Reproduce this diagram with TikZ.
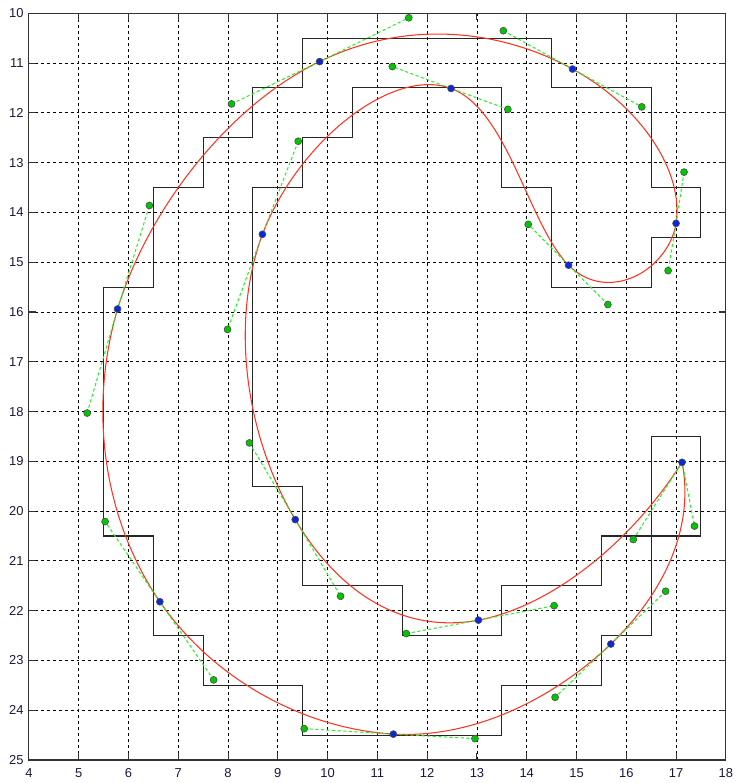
\documentclass[tikz,border=0pt]{standalone}
\usepackage{fontspec}
\setmainfont{Liberation Sans}
\definecolor{curvec}{RGB}{255,50,30}
\definecolor{ctrlc}{RGB}{40,240,40}
\definecolor{gdot}{RGB}{0,200,0}
\definecolor{bdot}{RGB}{10,40,220}
\definecolor{labc}{RGB}{25,25,60}
\tikzset{
  gridline/.style={black, line width=0.45pt, dash pattern=on 1.7pt off 1.7pt},
  axisline/.style={black!80, line width=0.6pt},
  tickline/.style={black!80, line width=0.6pt},
  stairline/.style={black!85, line width=0.6pt},
  fitcurve/.style={curvec, line width=0.6pt},
  ctrlline/.style={ctrlc, line width=0.6pt, dash pattern=on 1.8pt off 1.4pt},
  gmark/.style={circle, draw=black!70, fill=gdot, line width=0.35pt, inner sep=0pt, minimum size=1.4mm},
  bmark/.style={circle, draw=black!70, fill=bdot, line width=0.35pt, inner sep=0pt, minimum size=1.4mm},
  ticklabel/.style={text=labc, inner sep=0pt, font=\fontsize{7.4}{9}\selectfont}
}
\begin{document}
\begin{tikzpicture}[x=1cm,y=-1cm]
\useasboundingbox (3.419,9.733) rectangle (18.184,25.462);
% grid
\foreach \x in {5,...,17} \draw[gridline] (\x,25) -- (\x,10);
\foreach \y in {11,...,24} \draw[gridline] (4,\y) -- (18,\y);
% axes box and ticks
\draw[axisline] (4,10) rectangle (18,25);
\foreach \x in {5,...,17} {
  \draw[tickline] (\x,25) -- (\x,24.86);
  \draw[tickline] (\x,10) -- (\x,10.14);
}
\foreach \y in {11,...,24} {
  \draw[tickline] (4,\y) -- (4.14,\y);
  \draw[tickline] (18,\y) -- (17.86,\y);
}
% tick labels
\foreach \x in {4,...,18} \node[ticklabel] (xl\x) at (\x,25.26) {\x};
\foreach \y in {10,...,25} \node[ticklabel, anchor=east] (yl\y) at (3.9,\y) {\y};
% staircase outline
\draw[stairline] (9.5,10.5) -- (14.5,10.5) -- (14.5,11.5) -- (16.5,11.5) -- (16.5,13.5)
  -- (17.5,13.5) -- (17.5,14.5) -- (16.5,14.5) -- (16.5,15.5) -- (14.5,15.5) -- (14.5,13.5)
  -- (13.5,13.5) -- (13.5,11.5) -- (10.5,11.5) -- (10.5,12.5) -- (9.5,12.5) -- (9.5,13.5)
  -- (8.5,13.5) -- (8.5,19.5) -- (9.5,19.5) -- (9.5,21.5) -- (11.5,21.5) -- (11.5,22.5)
  -- (13.5,22.5) -- (13.5,21.5) -- (15.5,21.5) -- (15.5,20.5) -- (17.5,20.5) -- (17.5,18.5)
  -- (16.5,18.5) -- (16.5,22.5) -- (15.5,22.5) -- (15.5,23.5) -- (13.5,23.5) -- (13.5,24.5)
  -- (9.5,24.5) -- (9.5,23.5) -- (7.5,23.5) -- (7.5,22.5) -- (6.5,22.5) -- (6.5,20.5)
  -- (5.5,20.5) -- (5.5,15.5) -- (6.5,15.5) -- (6.5,13.5) -- (7.5,13.5) -- (7.5,12.5)
  -- (8.5,12.5) -- (8.5,11.5) -- (9.5,11.5) -- cycle;
% points: b = on-curve, a = incoming control, c = outgoing control
\coordinate (b1) at (9.84,10.97);  \coordinate (a1) at (8.07,11.82);  \coordinate (c1) at (11.63,10.09);
\coordinate (b2) at (14.92,11.12); \coordinate (a2) at (13.53,10.35); \coordinate (c2) at (16.31,11.88);
\coordinate (b3) at (17.00,14.22); \coordinate (a3) at (17.16,13.19); \coordinate (c3) at (16.84,15.17);
\coordinate (b4) at (14.84,15.06); \coordinate (a4) at (15.63,15.85); \coordinate (c4) at (14.03,14.24);
\coordinate (b5) at (12.48,11.51); \coordinate (a5) at (13.62,11.93); \coordinate (c5) at (11.30,11.07);
\coordinate (b6) at (8.69,14.44);  \coordinate (a6) at (9.41,12.57);  \coordinate (c6) at (7.99,16.35);
\coordinate (b7) at (9.35,20.17);  \coordinate (a7) at (8.43,18.63);  \coordinate (c7) at (10.26,21.71);
\coordinate (b8) at (13.03,22.19); \coordinate (a8) at (11.58,22.46); \coordinate (c8) at (14.55,21.90);
\coordinate (b9) at (17.12,19.02); \coordinate (a9) at (16.14,20.57); \coordinate (c9) at (17.37,20.30);
\coordinate (b10) at (15.69,22.67); \coordinate (a10) at (16.79,21.61); \coordinate (c10) at (14.57,23.74);
\coordinate (b11) at (11.32,24.48); \coordinate (a11) at (12.96,24.57); \coordinate (c11) at (9.53,24.37);
\coordinate (b12) at (6.63,21.82);  \coordinate (a12) at (7.71,23.39);  \coordinate (c12) at (5.53,20.21);
\coordinate (b13) at (5.78,15.94);  \coordinate (a13) at (5.17,18.03);  \coordinate (c13) at (6.42,13.86);
% fitted curve
\draw[fitcurve] (b1) .. controls (c1) and (a2) .. (b2)
  .. controls (c2) and (a3) .. (b3)
  .. controls (c3) and (a4) .. (b4)
  .. controls (c4) and (a5) .. (b5)
  .. controls (c5) and (a6) .. (b6)
  .. controls (c6) and (a7) .. (b7)
  .. controls (c7) and (a8) .. (b8)
  .. controls (c8) and (a9) .. (b9)
  .. controls (c9) and (a10) .. (b10)
  .. controls (c10) and (a11) .. (b11)
  .. controls (c11) and (a12) .. (b12)
  .. controls (c12) and (a13) .. (b13)
  .. controls (c13) and (a1) .. (b1);
% control polygons
\foreach \i in {1,...,13} \draw[ctrlline] (a\i) -- (b\i) -- (c\i);
% markers
\foreach \i in {1,...,13} {
  \node[gmark] (ma\i) at (a\i) {};
  \node[gmark] (mc\i) at (c\i) {};
  \node[bmark] (mb\i) at (b\i) {};
}
\end{tikzpicture}
\end{document}
